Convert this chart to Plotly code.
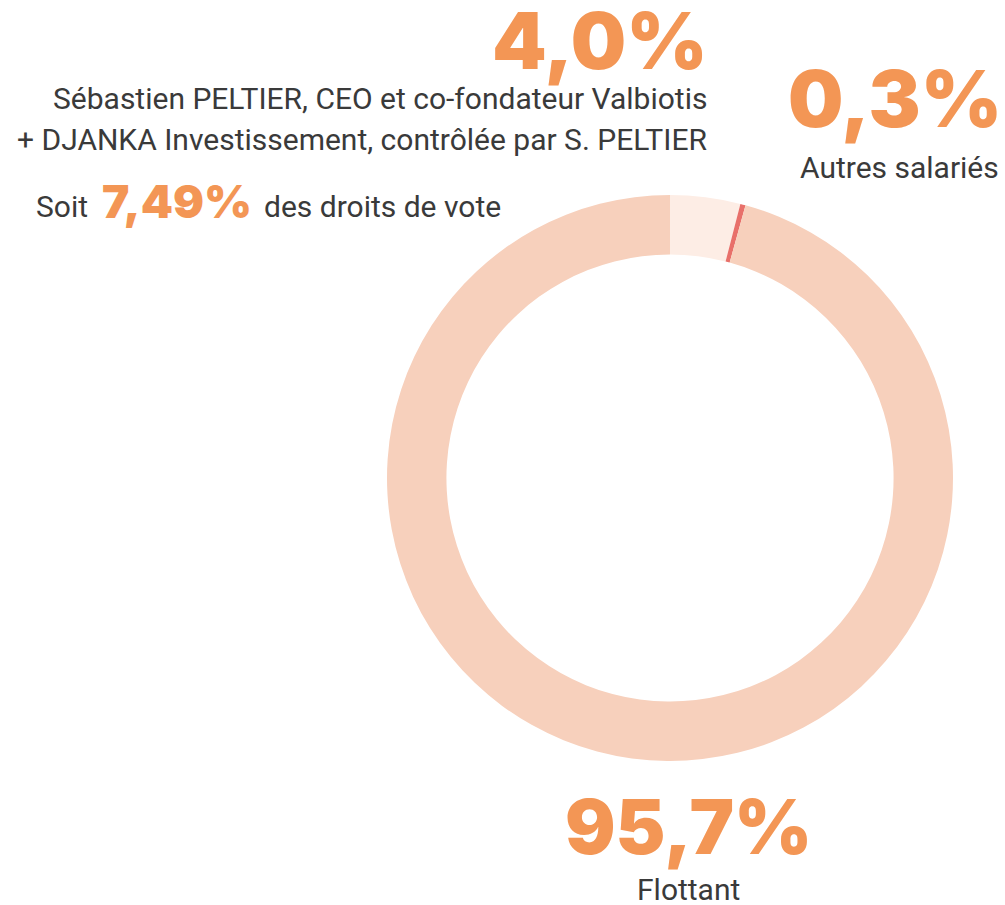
import plotly.graph_objects as go

# Shareholding structure
labels = ["Sébastien PELTIER + DJANKA Investissement", "Autres salariés", "Flottant"]
shares = [4.0, 0.3, 95.7]
slice_colors = ["#FDEDE5", "#E8706A", "#F7D0BC"]

value_labels = ["4,0%", "0,3%", "95,7%"]
voting_rights = "7,49%"

ORANGE = "#F39655"
DARK = "#3A3A3A"
BIG_FONT = "Inter"
BODY_FONT = "Roboto"

W, H = 1005, 905
cx, cy, r = 670, 478, 283  # donut centre and outer radius in pixels

fig = go.Figure(
    go.Pie(
        labels=labels,
        values=shares,
        sort=False,
        direction="clockwise",
        rotation=0,
        hole=0.79,
        marker=dict(colors=slice_colors, line=dict(width=0)),
        textinfo="none",
        hoverinfo="label+percent",
        showlegend=False,
        domain=dict(
            x=[(cx - r) / W, (cx + r) / W],
            y=[(H - cy - r) / H, (H - cy + r) / H],
        ),
    )
)


def px(x):
    return x / W


def py(y):
    return 1 - y / H


def big(text, x, y, xanchor="center", size=78):
    return dict(
        text=text, x=px(x), y=py(y), xref="paper", yref="paper",
        xanchor=xanchor, yanchor="middle", showarrow=False, borderpad=0,
        font=dict(family=BIG_FONT, size=size, color=ORANGE, weight=900),
    )


def body(text, x, y, xanchor, size=30):
    return dict(
        text=text, x=px(x), y=py(y), xref="paper", yref="paper",
        xanchor=xanchor, yanchor="middle", showarrow=False, borderpad=0,
        font=dict(family=BODY_FONT, size=size, color=DARK),
    )


annotations = [
    big(value_labels[0], 600, 40),
    body("Sébastien PELTIER, CEO et co-fondateur Valbiotis", 708, 98, "right"),
    body("+ DJANKA Investissement, contrôlée par S. PELTIER", 708, 139, "right"),
    body("Soit", 89, 206, "right"),
    big(voting_rights, 177, 201, size=46),
    body("des droits de vote", 263, 206, "left"),
    big(value_labels[1], 895, 98),
    body("Autres salariés", 1000, 167, "right"),
    big(value_labels[2], 688, 826, size=75),
    body("Flottant", 688, 889, "center"),
]

fig.update_layout(
    width=W,
    height=H,
    margin=dict(l=0, r=0, t=0, b=0),
    paper_bgcolor="white",
    plot_bgcolor="white",
    annotations=annotations,
)

fig.write_html("out.html")
